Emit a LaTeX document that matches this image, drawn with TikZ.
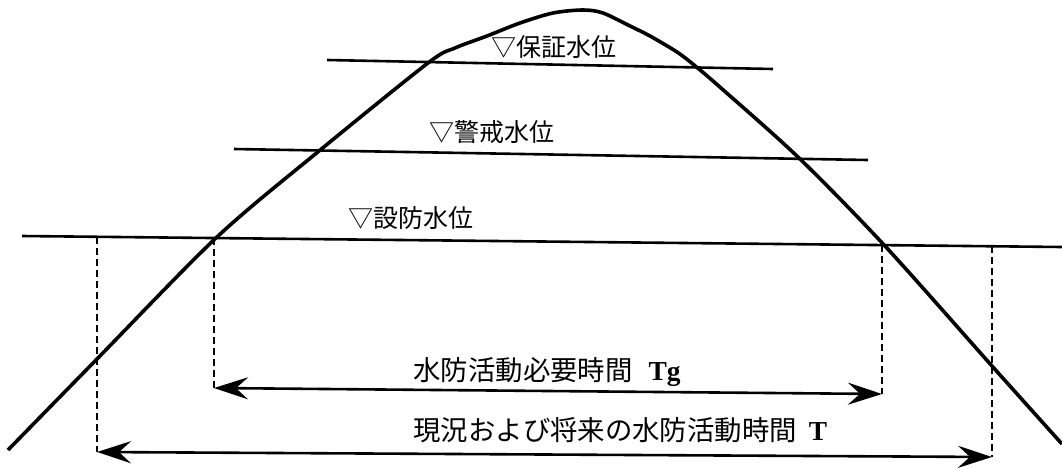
\documentclass[tikz,border=0pt]{standalone}
\usepackage{fontspec}
\newfontfamily\jp{Noto Sans CJK JP}
\newfontfamily\tnr{Liberation Serif}
\usetikzlibrary{arrows.meta}
\begin{document}
\begin{tikzpicture}[x=0.5pt,y=-0.5pt,
  level/.style={line width=1.3pt},
  curve/.style={line width=1.8pt, line join=round},
  guide/.style={line width=1pt, dash pattern=on 3.5pt off 2pt},
  span/.style={line width=1.3pt, {Stealth[length=17pt,width=11pt,inset=6pt]}-{Stealth[length=17pt,width=11pt,inset=6pt]}},
  lvl/.style={font=\jp\fontsize{12.5pt}{14pt}\selectfont, inner sep=0pt},
  lab/.style={font=\jp\fontsize{13.7pt}{15pt}\selectfont, inner sep=0pt, anchor=west},
]
\useasboundingbox (0,0) rectangle (1062,467);

% level lines
\coordinate (pL) at (327,60);  \coordinate (pR) at (773,69);
\coordinate (kL) at (234,149); \coordinate (kR) at (868,160);
\coordinate (sL) at (22,236);  \coordinate (sR) at (1062,247);
\draw[level] (pL) -- (pR);
\draw[level] (kL) -- (kR);
\draw[level] (sL) -- (sR);

% hydrograph curve
\draw[curve] plot[smooth,tension=0.5] coordinates {(8,450) (97,359) (217,237) (319,151) (428,63) (455,48) (487,36) (520,23) (553,13) (583,10) (603,13) (630,26) (650,36) (677,52) (694,65) (721,88) (799,158) (885,246) (992,366) (1062,444)};

% dashed guides
\coordinate (d1t) at (97,237);  \coordinate (d1b) at (97,452);
\coordinate (d2t) at (214,238); \coordinate (d2b) at (214,388);
\coordinate (d3t) at (882,245); \coordinate (d3b) at (882,394);
\coordinate (d4t) at (992,246); \coordinate (d4b) at (992,457);
\draw[guide] (d1t) -- (d1b);
\draw[guide] (d2t) -- (d2b);
\draw[guide] (d3t) -- (d3b);
\draw[guide] (d4t) -- (d4b);

% spans
\draw[span] (d2b) -- (d3b);
\draw[span] (d1b) -- (d4b);

% labels
\node[lvl] (hosho) at (554,47) {▽保証水位};
\node[lvl] (keikai) at (492,132) {▽警戒水位};
\node[lvl] (setsubo) at (411,218) {▽設防水位};
\node[lab] (tg) at (413,372) {水防活動必要時間\hspace{8pt}{\tnr\bfseries Tg}};
\node[lab] (t) at (413,430) {現況および将来の水防活動時間\hspace{6pt}{\tnr\bfseries T}};
\end{tikzpicture}
\end{document}
